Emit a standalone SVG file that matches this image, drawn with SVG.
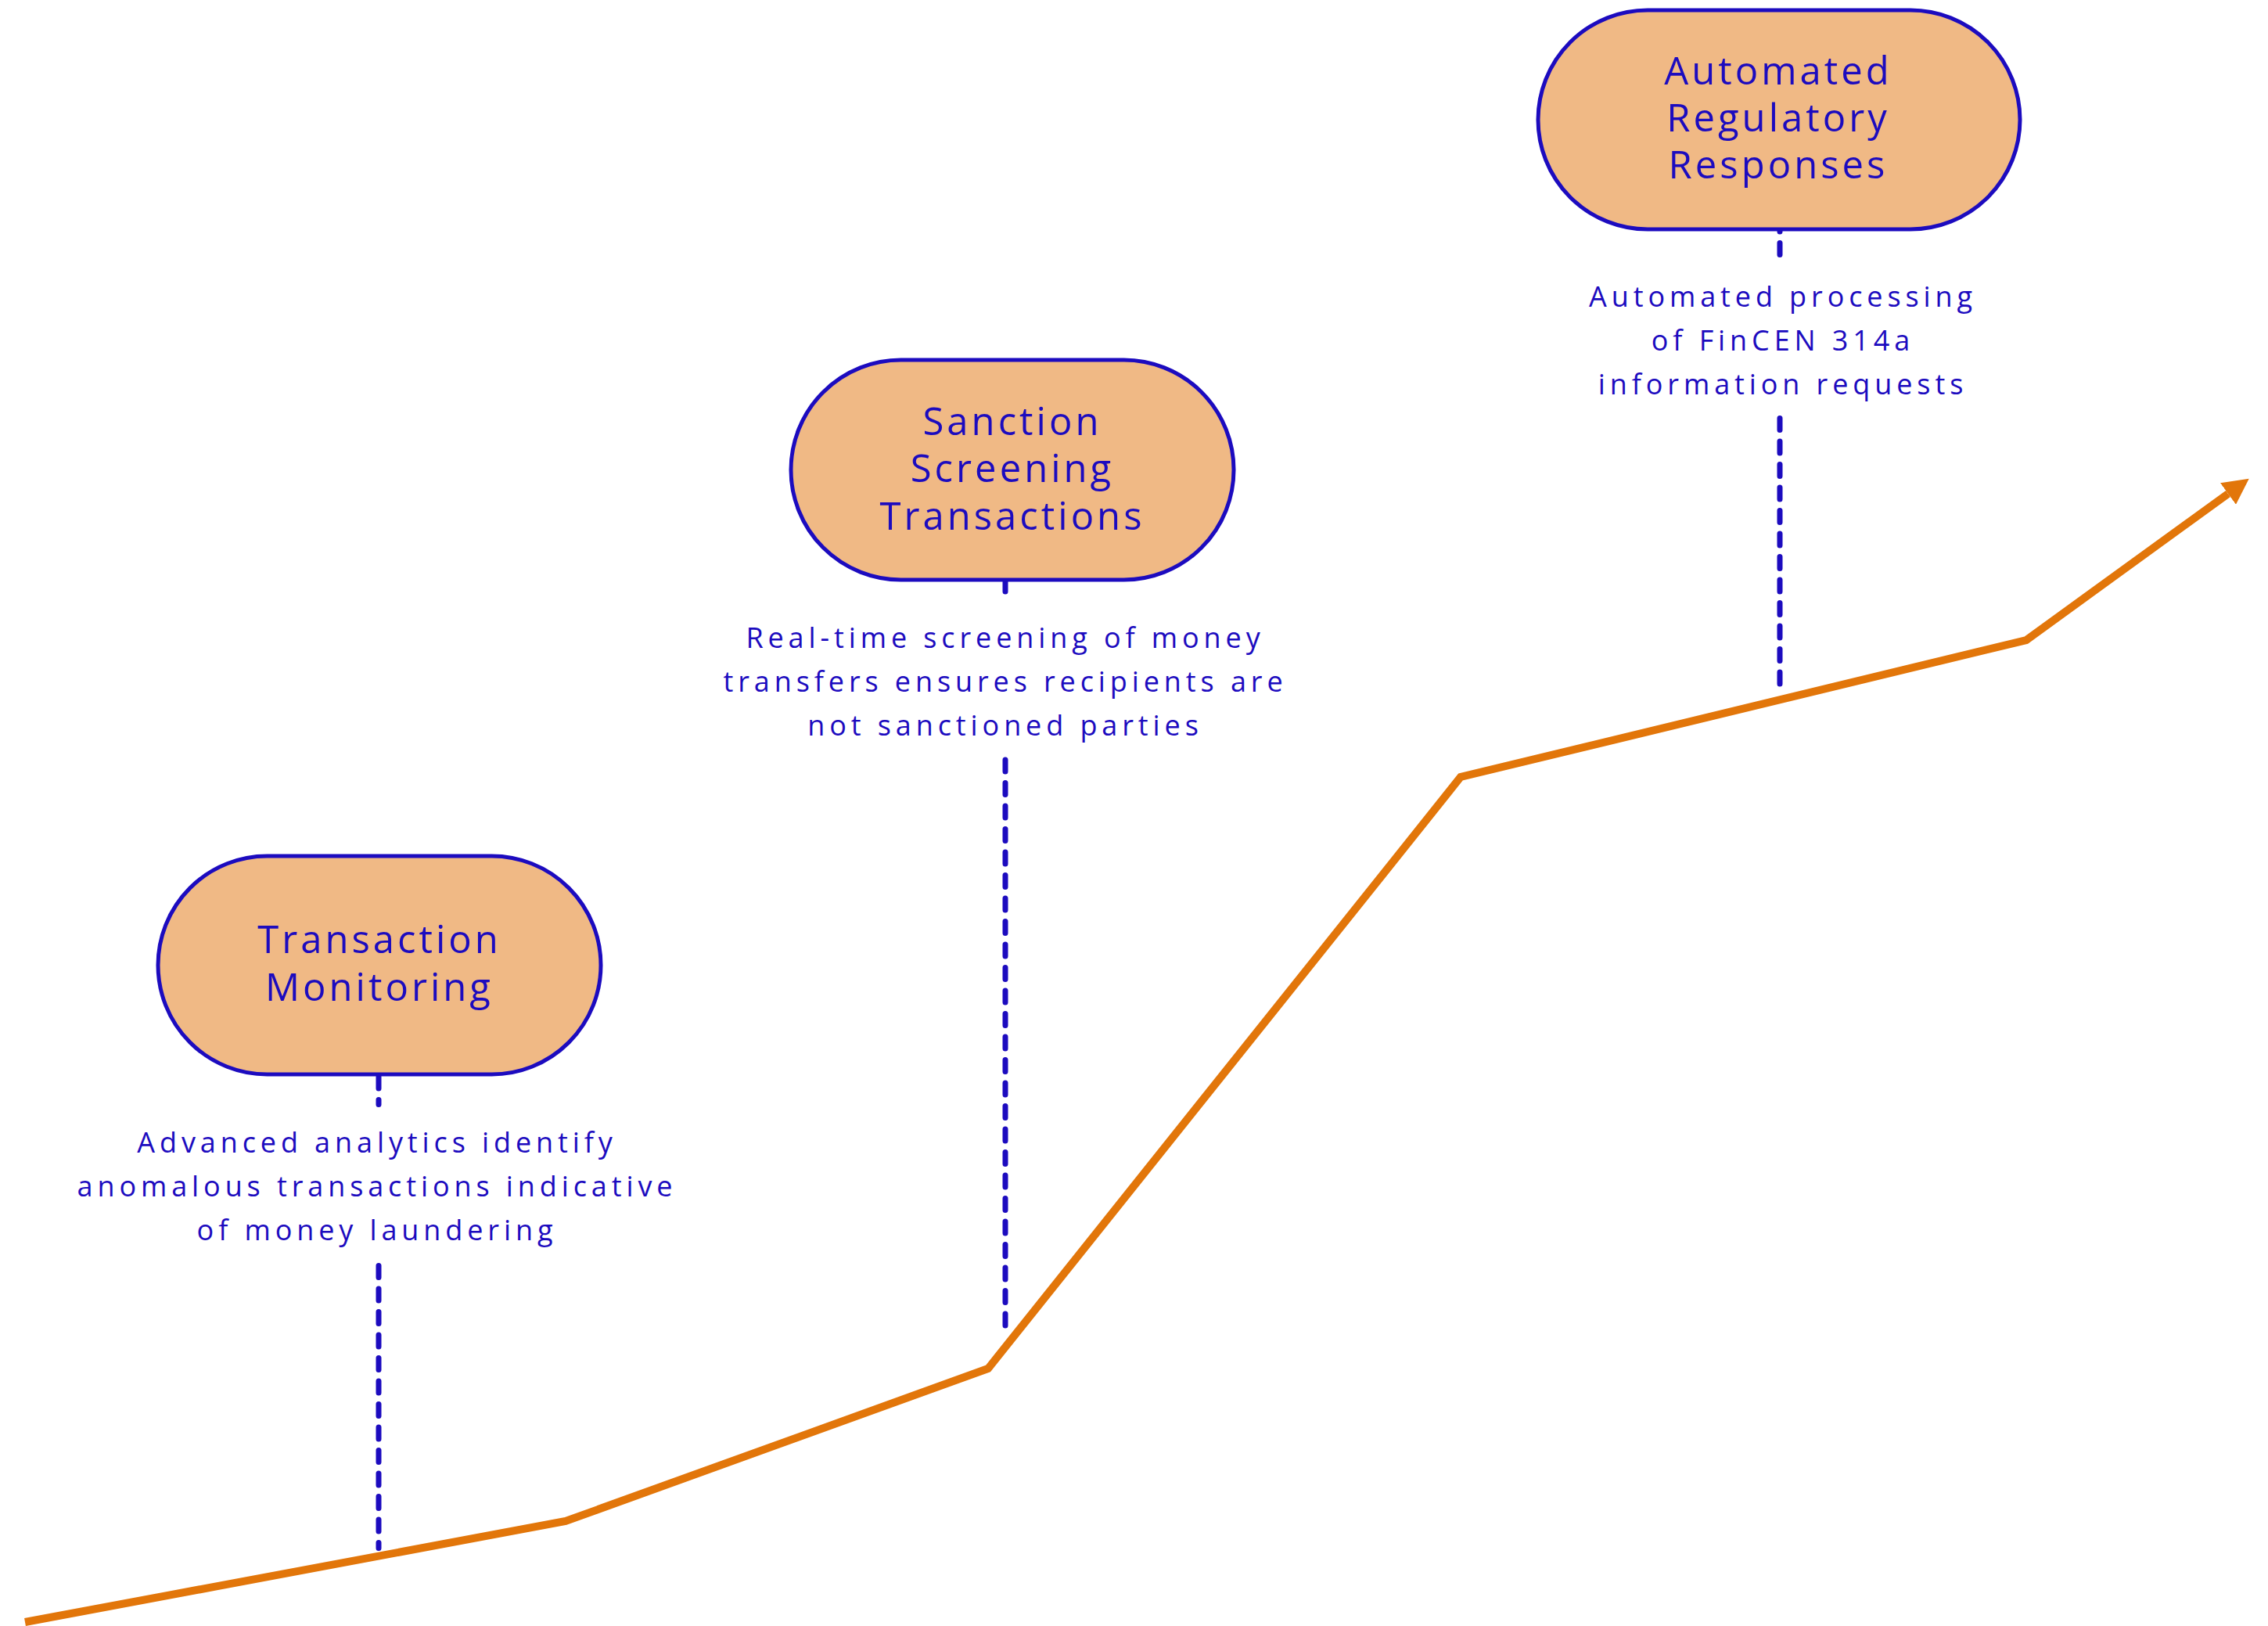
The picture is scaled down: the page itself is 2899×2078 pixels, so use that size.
<svg xmlns="http://www.w3.org/2000/svg" width="2899" height="2078" viewBox="0 0 2899 2078">
<style>
.node{fill:#F0B985;stroke:#1C0BBF;stroke-width:5}
.title{font-family:"Open Sans","Noto Sans",sans-serif;font-size:49px;letter-spacing:4px;fill:#1C0BBF;text-anchor:middle}
.desc{font-family:"Open Sans","Noto Sans",sans-serif;font-size:36px;letter-spacing:5.9px;fill:#1C0BBF;text-anchor:middle}
.dash{stroke:#1C0BBF;stroke-width:7;stroke-dasharray:15 14.5;stroke-linecap:round;fill:none}
.trend{stroke:#E2760A;stroke-width:10;fill:none;stroke-linejoin:miter}
</style>
<defs>
<marker id="arrow" markerUnits="userSpaceOnUse" viewBox="0 0 34 34" markerWidth="34" markerHeight="34" refX="0" refY="17" orient="auto">
<path d="M0,0 L33,17 L0,34 z" fill="#E2760A"/>
</marker>
</defs>
<rect width="2899" height="2078" fill="#FFFFFF"/>
<g id="connectors">
<polyline class="trend" points="32,2073 723,1944 1263,1749 1867,993 2590,818 2848,631" marker-end="url(#arrow)"/>
<line class="dash" x1="484" y1="1376" x2="484" y2="1411.5"/>
<line class="dash" x1="484" y1="1617.5" x2="484" y2="1978.5"/>
<line class="dash" x1="1285" y1="741" x2="1285" y2="760.5"/>
<line class="dash" x1="1285" y1="971" x2="1285" y2="1698"/>
<line class="dash" x1="2275" y1="290" x2="2275" y2="325.5" stroke-dashoffset="9"/>
<line class="dash" x1="2275" y1="534.5" x2="2275" y2="884.5"/>
</g>
<g id="node-transaction-monitoring">
<rect class="node" x="202" y="1094" width="566" height="279" rx="139.5"/>
<text class="title" x="485"><tspan x="485" y="1218">Transaction</tspan><tspan x="485" y="1279">Monitoring</tspan></text>
<text class="desc" x="482"><tspan x="482" y="1473">Advanced analytics identify</tspan><tspan x="482" y="1529">anomalous transactions indicative</tspan><tspan x="482" y="1585">of money laundering</tspan></text>
</g>
<g id="node-sanction-screening">
<rect class="node" x="1011" y="460" width="566" height="281" rx="140.5"/>
<text class="title" x="1294"><tspan x="1294" y="556">Sanction</tspan><tspan x="1294" y="616">Screening</tspan><tspan x="1294" y="677">Transactions</tspan></text>
<text class="desc" x="1285"><tspan x="1285" y="828">Real-time screening of money</tspan><tspan x="1285" y="884">transfers ensures recipients are</tspan><tspan x="1285" y="940">not sanctioned parties</tspan></text>
</g>
<g id="node-automated-regulatory">
<rect class="node" x="1966" y="13" width="616" height="280" rx="140"/>
<text class="title" x="2273"><tspan x="2273" y="108">Automated</tspan><tspan x="2273" y="168">Regulatory</tspan><tspan x="2273" y="228">Responses</tspan></text>
<text class="desc" x="2279"><tspan x="2279" y="392">Automated processing</tspan><tspan x="2279" y="448">of FinCEN 314a</tspan><tspan x="2279" y="504">information requests</tspan></text>
</g>
</svg>
